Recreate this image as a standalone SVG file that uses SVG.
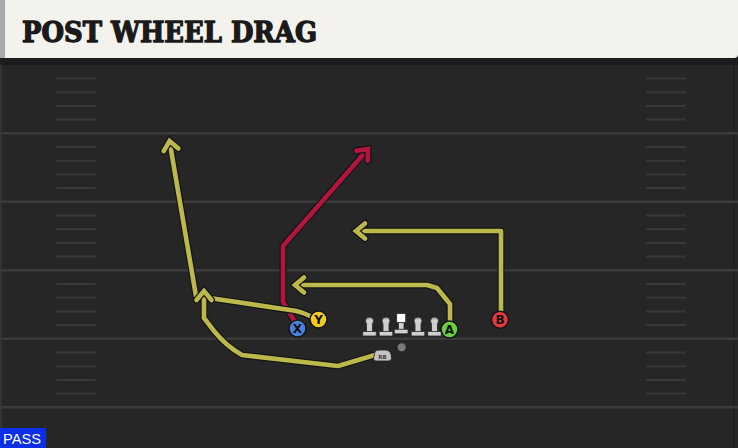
<svg xmlns="http://www.w3.org/2000/svg" xmlns:xlink="http://www.w3.org/1999/xlink" width="738" height="448" viewBox="0 0 738 448">
<style>
.yard{stroke:#3b3b3b;stroke-width:2.5}
.hash{stroke:#383838;stroke-width:2;stroke-linecap:round}
.out{fill:none;stroke:#141414;stroke-width:7;stroke-linejoin:round;stroke-linecap:round}
.ylw{fill:none;stroke:#bcb84b;stroke-width:4.6;stroke-linejoin:round;stroke-linecap:round}
.red{fill:none;stroke:#b3163c;stroke-width:4.6;stroke-linejoin:round;stroke-linecap:round}
.pl{stroke:#151515;stroke-width:1.5}
.lbl{font-family:"DejaVu Sans",sans-serif;font-weight:bold;font-size:12px;fill:#111;text-anchor:middle}
.lm{fill:#cfcfcf;stroke:#2a2a2a;stroke-width:0.8}
</style>
<defs>
<marker id="ay" markerUnits="userSpaceOnUse" markerWidth="24" markerHeight="24" viewBox="-14 -12 24 24" refX="0" refY="0" orient="auto">
<path d="M-9,-7.5 L0,0 L-9,7.5" fill="none" stroke="#141414" stroke-width="7" stroke-linejoin="miter" stroke-linecap="round"/>
<path d="M-9,-7.5 L0,0 L-9,7.5" fill="none" stroke="#bcb84b" stroke-width="4.6" stroke-linejoin="miter" stroke-linecap="round"/>
</marker>
<marker id="ar" markerUnits="userSpaceOnUse" markerWidth="24" markerHeight="24" viewBox="-14 -12 24 24" refX="0" refY="0" orient="auto">
<path d="M-9,-7.5 L0,0 L-9,7.5" fill="none" stroke="#141414" stroke-width="7" stroke-linejoin="miter" stroke-linecap="round"/>
<path d="M-9,-7.5 L0,0 L-9,7.5" fill="none" stroke="#b3163c" stroke-width="4.6" stroke-linejoin="miter" stroke-linecap="round"/>
</marker>
<linearGradient id="lmg" x1="0" y1="0" x2="0" y2="1">
<stop offset="0" stop-color="#8a8a8a"/>
<stop offset="0.4" stop-color="#d4d4d4"/>
<stop offset="1" stop-color="#c8c8c8"/>
</linearGradient>
<g id="lineman">
<rect x="-2.8" y="-13" width="5.6" height="9.5" fill="#cfcfcf" stroke="#2a2a2a" stroke-width="0.8"/>
<circle cx="0" cy="-15" r="4" fill="url(#lmg)" stroke="#2a2a2a" stroke-width="0.8"/>
<rect x="-2.4" y="-13" width="4.8" height="9.5" fill="#cfcfcf"/>
<rect x="-6.8" y="-4.5" width="13.6" height="4.5" rx="1" class="lm"/>
</g>
</defs>

<!-- field -->
<rect x="0" y="0" width="738" height="448" fill="#262626"/>
<rect x="0" y="58" width="738" height="7" fill="#1c1c1c"/>
<rect x="0" y="65" width="2" height="383" fill="#333"/>
<rect x="733" y="65" width="2" height="383" fill="#202020"/>
<g id="field-lines">
<line class="yard" x1="0" y1="133.3" x2="738" y2="133.3"/>
<line class="yard" x1="0" y1="201.8" x2="738" y2="201.8"/>
<line class="yard" x1="0" y1="270.3" x2="738" y2="270.3"/>
<line class="yard" x1="0" y1="338.8" x2="738" y2="338.8"/>
<line class="yard" x1="0" y1="407.3" x2="738" y2="407.3"/>
<g class="hash">
<path d="M57,78.5H95M57,92.2H95M57,105.9H95M57,119.6H95M57,147H95M57,160.7H95M57,174.4H95M57,188.1H95M57,215.5H95M57,229.2H95M57,242.9H95M57,256.6H95M57,284H95M57,297.7H95M57,311.4H95M57,325.1H95M57,352.5H95M57,366.2H95M57,379.9H95M57,393.6H95"/>
<path d="M647,78.5H685M647,92.2H685M647,105.9H685M647,119.6H685M647,147H685M647,160.7H685M647,174.4H685M647,188.1H685M647,215.5H685M647,229.2H685M647,242.9H685M647,256.6H685M647,284H685M647,297.7H685M647,311.4H685M647,325.1H685M647,352.5H685M647,366.2H685M647,379.9H685M647,393.6H685"/>
</g>
</g>

<!-- header -->
<g id="header">
<path d="M0,0 H738 V54 Q738,58 734,58 H0 Z" fill="#f4f2ec"/>
<rect x="0" y="0" width="5" height="58" fill="#a9a9a9"/>
<text x="22" y="42" font-family="'DejaVu Serif',serif" font-weight="bold" font-size="27" fill="#1a1a1a" stroke="#1a1a1a" stroke-width="1.3" stroke-linejoin="round" textLength="295" lengthAdjust="spacingAndGlyphs">POST WHEEL DRAG</text>
</g>

<!-- routes -->
<g id="connectors">
<g id="route-x">
<path class="out" d="M295,322 L283,302 L283,246 L366,151"/>
<path class="red" d="M295,322 L283,302 L283,246 L368,149" marker-end="url(#ar)"/>
</g>
<g id="route-y">
<path class="out" d="M310,316 Q300,311 290,310 L196,296 L170,143"/>
<path class="ylw" d="M310,316 Q300,311 290,310 L196,296 L169.5,141" marker-end="url(#ay)"/>
</g>
<g id="route-rb">
<path class="out" d="M375,355 L338,366 L242,355 Q226,346 214,331 L204,318 L204,294"/>
<path class="ylw" d="M375,355 L338,366 L242,355 Q226,346 214,331 L204,318 L204,291" marker-end="url(#ay)"/>
</g>
<g id="route-a">
<path class="out" d="M450,321 L450,304 L437,288 L427,285 L298,285"/>
<path class="ylw" d="M450,321 L450,304 L437,288 L427,285 L295,285" marker-end="url(#ay)"/>
</g>
<g id="route-b">
<path class="out" d="M501,313 L501,231 L359,231"/>
<path class="ylw" d="M501,313 L501,231 L356,231" marker-end="url(#ay)"/>
</g>
</g>

<!-- line -->
<g id="lt"><use xlink:href="#lineman" x="369.5" y="336"/></g>
<g id="lg"><use xlink:href="#lineman" x="386" y="336"/></g>
<g id="center">
<rect x="398.4" y="322" width="5.6" height="8" fill="#cfcfcf" stroke="#2a2a2a" stroke-width="0.8"/>
<rect x="396.7" y="313.5" width="9" height="9" fill="#ffffff" stroke="#2a2a2a" stroke-width="0.8"/>
<rect x="394.4" y="329.3" width="13.6" height="4.5" rx="1" class="lm"/>
</g>
<g id="rg"><use xlink:href="#lineman" x="418" y="336"/></g>
<g id="rt"><use xlink:href="#lineman" x="434.5" y="336"/></g>
<g id="qb"><circle cx="401.7" cy="347.3" r="4.5" fill="#7a7a7a" stroke="#222" stroke-width="0.8"/></g>
<g id="rb">
<path d="M375,351.5 Q376,350 379,350 L386,350 Q390,350 391,354 L391.5,358 Q391.5,361 388.5,361 L376,361 Q373.5,361 373.5,358.5 Z" fill="#c2c2c2" stroke="#1a1a1a" stroke-width="0.8"/>
<text x="382.5" y="358.5" font-family="'DejaVu Sans',sans-serif" font-size="5.5" font-weight="bold" fill="#444" text-anchor="middle">RB</text>
</g>

<!-- skill players -->
<g id="player-x"><circle class="pl" cx="297.5" cy="328.5" r="8.5" fill="#4a80dc"/><text class="lbl" x="297.5" y="332.8">X</text></g>
<g id="player-y"><circle class="pl" cx="318.5" cy="319.5" r="8.5" fill="#f2cc22"/><text class="lbl" x="318.5" y="323.8">Y</text></g>
<g id="player-a"><circle class="pl" cx="449.5" cy="329.5" r="8.5" fill="#6ecf3c"/><text class="lbl" x="449.5" y="333.8">A</text></g>
<g id="player-b"><circle class="pl" cx="500" cy="319.8" r="8.5" fill="#e5383e"/><text class="lbl" x="500" y="324.1">B</text></g>

<!-- tag -->
<g id="pass-tag">
<rect x="0" y="428" width="46" height="20" fill="#0b2ee6"/>
<text x="3" y="444" font-family="'Liberation Sans',Arial,sans-serif" font-size="15" fill="#ffffff" textLength="38" lengthAdjust="spacingAndGlyphs">PASS</text>
</g>
</svg>
